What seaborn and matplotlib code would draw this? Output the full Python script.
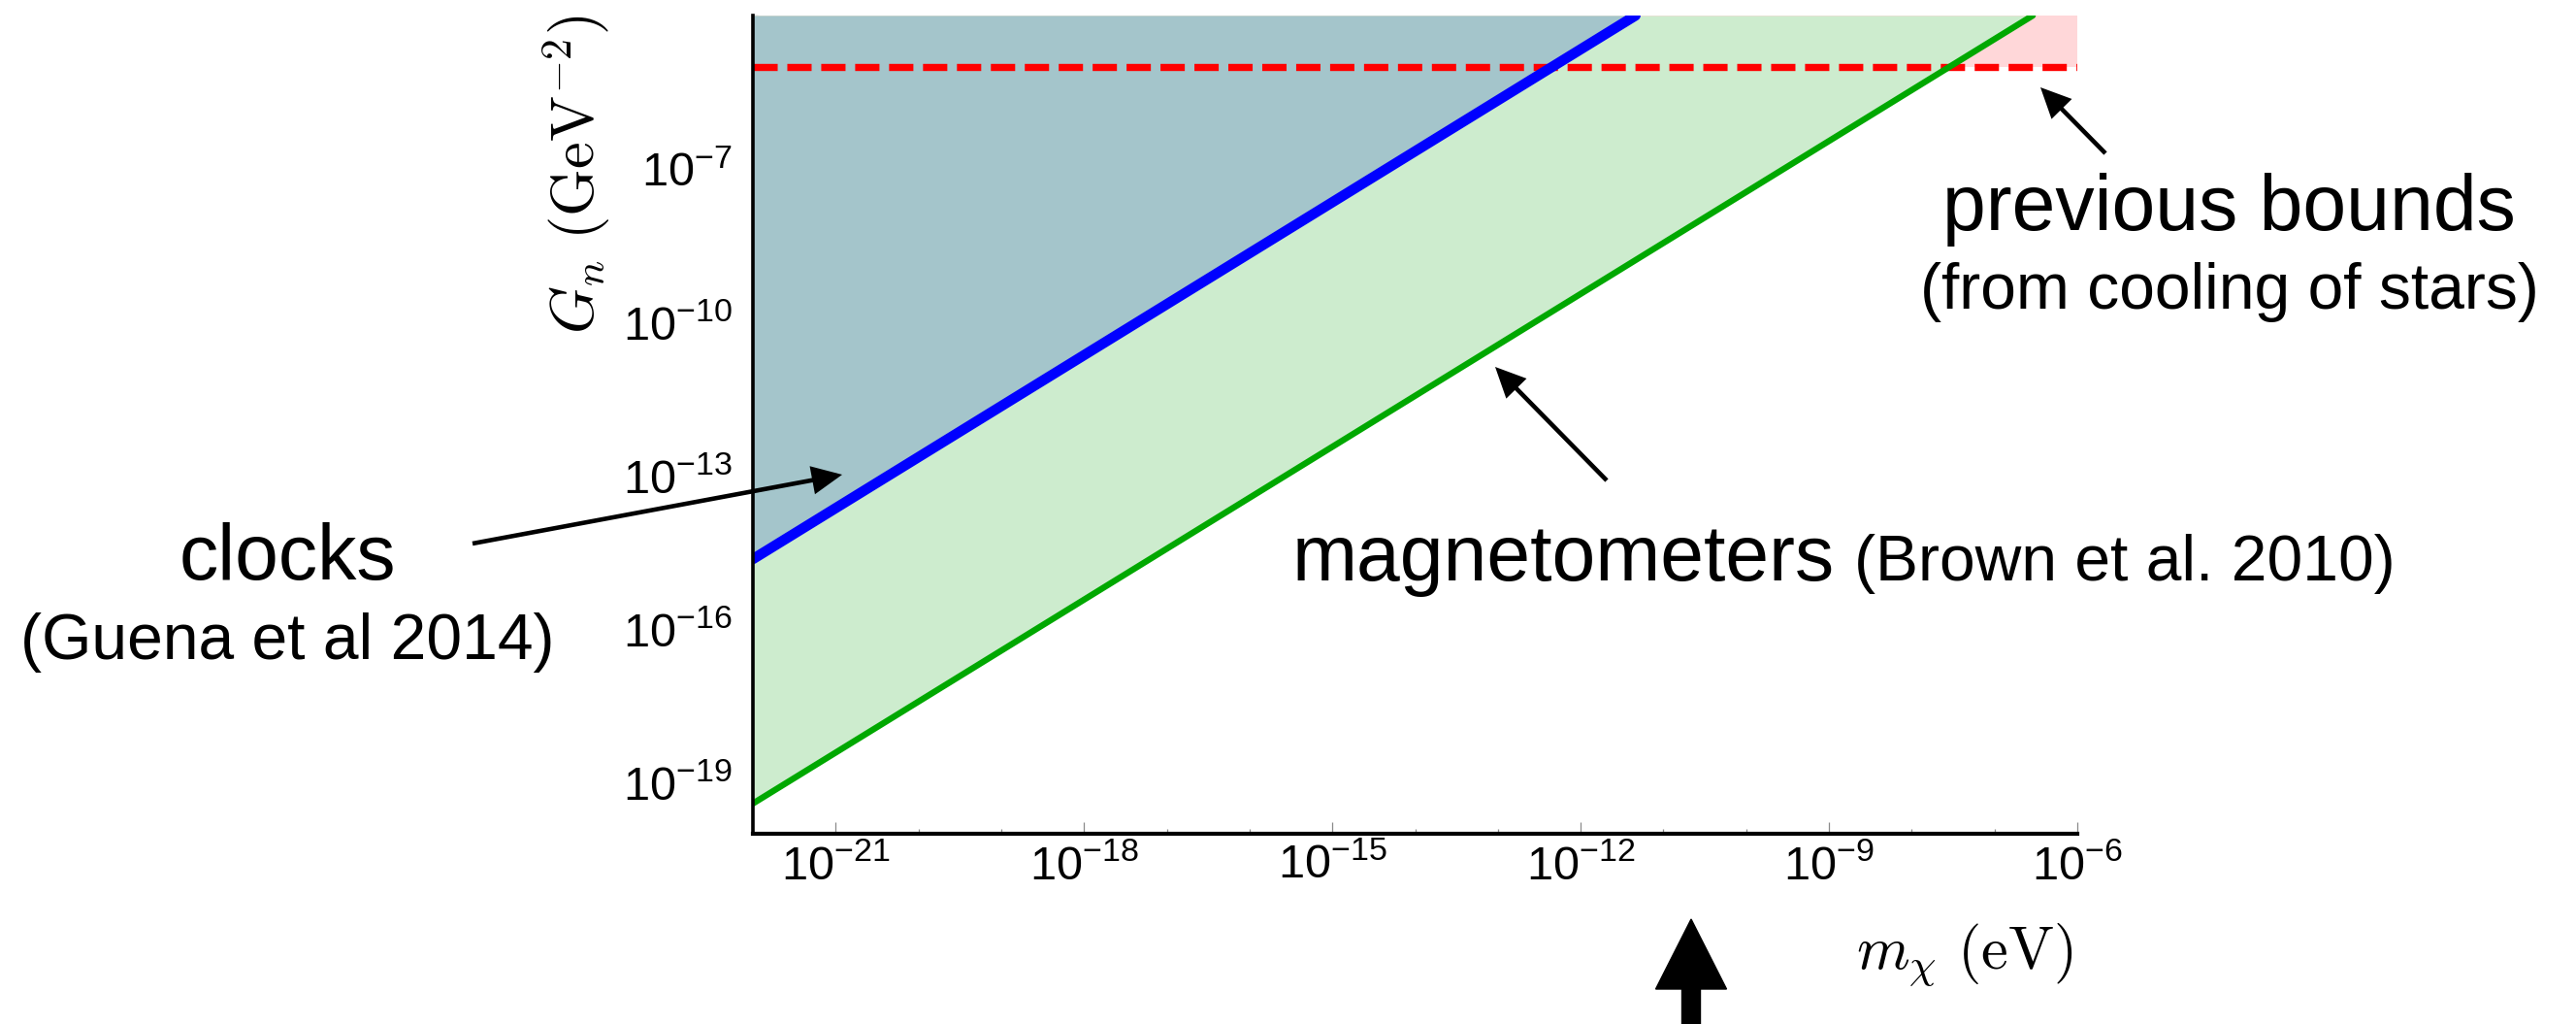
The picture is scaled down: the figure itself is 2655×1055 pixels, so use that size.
import numpy as np
import pandas as pd
import matplotlib
matplotlib.use("Agg")
import matplotlib.pyplot as plt
import seaborn as sns
from matplotlib.patches import FancyArrowPatch, FancyArrow, ArrowStyle
from matplotlib.ticker import FixedLocator, NullFormatter

# ---------------- data ----------------
mass_limits = [1e-22, 1e-6]           # m_chi axis range (eV)
G_limits = [1e-20, 1e-4]              # G_n axis range (GeV^-2)

x_major_ticks = [1e-21, 1e-18, 1e-15, 1e-12, 1e-9, 1e-6]
y_major_ticks = [1e-19, 1e-16, 1e-13, 1e-10, 1e-7]

# clocks bound (Guena et al 2014)
clocks_mass = [1e-22, 4.6e-12]
clocks_G = [2.35e-15, 1e-4]

# magnetometers bound (Brown et al. 2010)
magnetometer_mass = [1e-22, 2.9e-7]
magnetometer_G = [3.9e-20, 1e-4]

# previous bound from cooling of stars
stars_G = [1e-5, 1e-5]

# ---------------- style ----------------
sns.set_theme(style="ticks")
plt.rcParams["font.family"] = ["Liberation Sans", "DejaVu Sans"]
plt.rcParams["mathtext.fontset"] = "custom"
plt.rcParams["mathtext.rm"] = "Liberation Sans"
plt.rcParams["mathtext.it"] = "Liberation Sans:italic"
plt.rcParams["mathtext.bf"] = "Liberation Sans:bold"
for key in ["text.color", "axes.labelcolor", "xtick.labelcolor", "ytick.labelcolor"]:
    plt.rcParams[key] = "black"

W, H = 2655, 1055
fig = plt.figure(figsize=(W / 100, H / 100), dpi=100)
ax_left, ax_right, ax_top, ax_bottom = 776, 2141, 16, 859
ax = fig.add_axes([ax_left / W, 1 - ax_bottom / H,
                   (ax_right - ax_left) / W, (ax_bottom - ax_top) / H])
ax.set_xscale("log")
ax.set_yscale("log")

c_blue_fill = "#a4c5cb"
c_green_fill = "#cdecce"
c_pink_fill = "#ffd7d9"

# filled regions
ax.fill_between(mass_limits, stars_G, G_limits[1], color=c_pink_fill, lw=0, zorder=1)
ax.fill_between(magnetometer_mass, magnetometer_G, G_limits[1], color=c_green_fill, lw=0, zorder=2)
ax.fill_between(clocks_mass, clocks_G, G_limits[1], color=c_blue_fill, lw=0, zorder=3)

# bound lines
sns.lineplot(x=mass_limits, y=stars_G, ax=ax, color="#ff0000", lw=5.3,
             linestyle=(0, (3.4, 1.35)), zorder=4)
sns.lineplot(x=magnetometer_mass, y=magnetometer_G, ax=ax, color="#00a800",
             lw=4.6, zorder=5)
sns.lineplot(x=clocks_mass, y=clocks_G, ax=ax, color="#0000ff", lw=7.6, zorder=6)

ax.set_xlim(*mass_limits)
ax.set_ylim(*G_limits)

# axes / ticks
sns.despine(ax=ax)
for s in ["left", "bottom"]:
    ax.spines[s].set_color("black")
    ax.spines[s].set_zorder(10)
ax.spines["left"].set_linewidth(2.6)
ax.spines["bottom"].set_linewidth(3.0)

ax.xaxis.set_major_locator(FixedLocator(x_major_ticks))
ax.yaxis.set_major_locator(FixedLocator(y_major_ticks))
ax.xaxis.set_minor_locator(FixedLocator([10.0 ** k for k in range(-22, -5)]))
ax.yaxis.set_minor_locator(FixedLocator([10.0 ** k for k in range(-20, -3)]))
ax.xaxis.set_minor_formatter(NullFormatter())
ax.yaxis.set_minor_formatter(NullFormatter())
ax.tick_params(which="major", direction="in", length=8.5, width=0.9,
               color="#8a8a8a", labelsize=35, labelcolor="black")
ax.tick_params(which="minor", direction="in", length=3.5, width=0.9, color="#8a8a8a")
ax.tick_params(axis="x", which="major", pad=8)
ax.tick_params(axis="y", which="major", pad=15)
ax.grid(False)

# axis labels (Computer Modern math)
ax.set_xlabel(r"$m_\chi\ (\mathrm{eV})$", fontsize=45, math_fontfamily="cm",
              ha="left", va="baseline", color="black")
ax.xaxis.set_label_coords((1913 - ax_left) / (ax_right - ax_left),
                          (ax_bottom - 997) / (ax_bottom - ax_top))
ax.set_ylabel(r"$G_n\ (\mathrm{GeV}^{-2})$", fontsize=45, math_fontfamily="cm",
              ha="center", va="center", rotation=90, rotation_mode="anchor",
              color="black")
ax.yaxis.set_label_coords((595 - ax_left) / (ax_right - ax_left),
                          (ax_bottom - 180) / (ax_bottom - ax_top))


def px(x, y):
    return (x / 100.0, (H - y) / 100.0)


inch = fig.dpi_scale_trans

# annotation texts
big, small = 58, 47.5
kw = dict(va="baseline", transform=inch, color="black")
fig.text(*px(296, 597), "clocks", fontsize=big, ha="center", **kw)
fig.text(*px(296, 679), "(Guena et al 2014)", fontsize=small, ha="center", **kw)
fig.text(*px(1332, 598), "magnetometers", fontsize=big, ha="left", **kw)
fig.text(*px(1911, 598), "(Brown et al. 2010)", fontsize=small, ha="left", **kw)
fig.text(*px(2297, 237), "previous bounds", fontsize=big, ha="center", **kw)
fig.text(*px(2298, 318), "(from cooling of stars)", fontsize=small, ha="center", **kw)

# annotation arrows
style = ArrowStyle("-|>", head_length=17, head_width=8)
for tail, tip in [((487, 560), (868, 489)),
                  ((1656, 495), (1541, 378)),
                  ((2170, 158), (2103, 90))]:
    fig.add_artist(FancyArrowPatch(px(*tail), px(*tip), transform=inch,
                                   arrowstyle=style, mutation_scale=1, lw=3.3,
                                   color="black", shrinkA=0, shrinkB=0,
                                   joinstyle="miter", capstyle="butt"))

# big arrow at the bottom
fig.add_artist(FancyArrow(17.43, -0.1, 0, (H - 947) / 100.0 + 0.1, width=0.19,
                          head_width=0.73, head_length=0.72,
                          length_includes_head=True, color="black",
                          transform=inch))

fig.savefig("out.png", dpi=100)
